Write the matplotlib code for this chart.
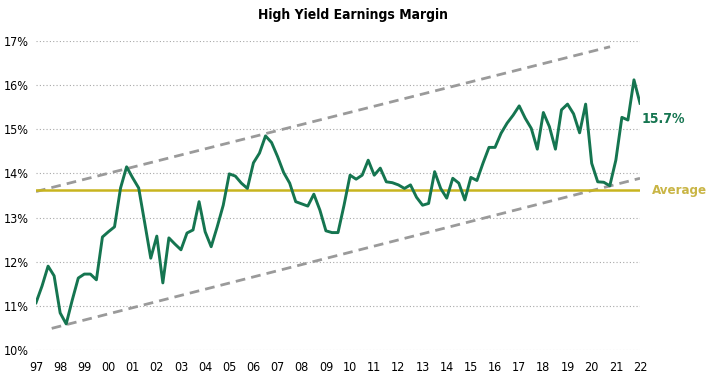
import matplotlib.pyplot as plt
import numpy as np

# quarterly values, 1997 Q1 .. 2022 Q1
margin = [11.07, 11.45, 11.90, 11.68, 10.84, 10.59, 11.13, 11.63, 11.72, 11.72,
          11.59, 12.56, 12.68, 12.79, 13.67, 14.15, 13.90, 13.67, 12.88, 12.08,
          12.58, 11.52, 12.54, 12.40, 12.27, 12.65, 12.72, 13.36, 12.68, 12.34,
          12.79, 13.28, 13.99, 13.94, 13.78, 13.66, 14.24, 14.46, 14.85, 14.70,
          14.38, 14.02, 13.78, 13.36, 13.31, 13.26, 13.53, 13.17, 12.70, 12.66,
          12.66, 13.28, 13.96, 13.87, 13.96, 14.30, 13.96, 14.12, 13.81, 13.79,
          13.74, 13.66, 13.74, 13.46, 13.28, 13.32, 14.04, 13.66, 13.44, 13.89,
          13.78, 13.40, 13.91, 13.84, 14.23, 14.59, 14.59, 14.91, 15.14, 15.32,
          15.53, 15.25, 15.02, 14.55, 15.38, 15.06, 14.55, 15.44, 15.57, 15.35,
          14.92, 15.57, 14.23, 13.81, 13.80, 13.72, 14.30, 15.27, 15.21, 16.12,
          15.59]
start_year = 1997
average = 13.62
last_label = "15.7%"

# trend channel end points (year, value)
upper_x = [1997.0, 2020.76]
upper_y = [13.59, 16.87]
lower_x = [1997.65, 2022.0]
lower_y = [10.49, 13.89]

year_ticks = list(range(1997, 2023))
year_labels = [f"{y % 100:02d}" for y in year_ticks]
y_ticks = list(range(10, 18))
y_labels = [f"{v}%" for v in y_ticks]

green = '#157550'
gold = '#c8b41e'
grey = '#9a9a9a'
font = dict(family='DejaVu Sans', stretch='condensed')

x = start_year + 0.25 * np.arange(len(margin))

fig = plt.figure(figsize=(7.06, 3.78), dpi=100)
ax = fig.add_axes([36 / 706, 28 / 378, 604 / 706, 309 / 378])

for v in y_ticks:
    ax.axhline(v, color='#a8a8a8', lw=0.8, ls=(0, (1, 2)), zorder=1)

ax.plot(upper_x, upper_y, color=grey, lw=2, dashes=(3.5, 2.2), zorder=2)
ax.plot(lower_x, lower_y, color=grey, lw=2, dashes=(3.5, 2.2), zorder=2)
ax.axhline(average, color=gold, lw=1.8, zorder=3)
ax.plot(x, margin, color=green, lw=2.1, zorder=4)

ax.text(x[-1] + 0.05, 15.23, last_label, color=green, fontsize=10,
        fontweight='bold', ha='left', va='center', **font)
ax.text(2022.5, average, "Average", color='#c9b545', fontsize=9.5,
        fontweight='bold', ha='left', va='center', **font)

ax.set_xlim(1997, 2022)
ax.set_ylim(10, 17)
ax.set_xticks(year_ticks)
ax.set_xticklabels(year_labels, fontsize=9, **font)
ax.set_yticks(y_ticks)
ax.set_yticklabels(y_labels, fontsize=9, **font)
ax.tick_params(length=0)
ax.tick_params(axis='x', pad=8)
ax.tick_params(axis='y', pad=5)
for s in ax.spines.values():
    s.set_visible(False)

fig.text(0.5, 0.96, "High Yield Earnings Margin", ha='center', va='center',
         fontsize=10, fontweight='bold', **font)

fig.savefig('out.png', dpi=100)
